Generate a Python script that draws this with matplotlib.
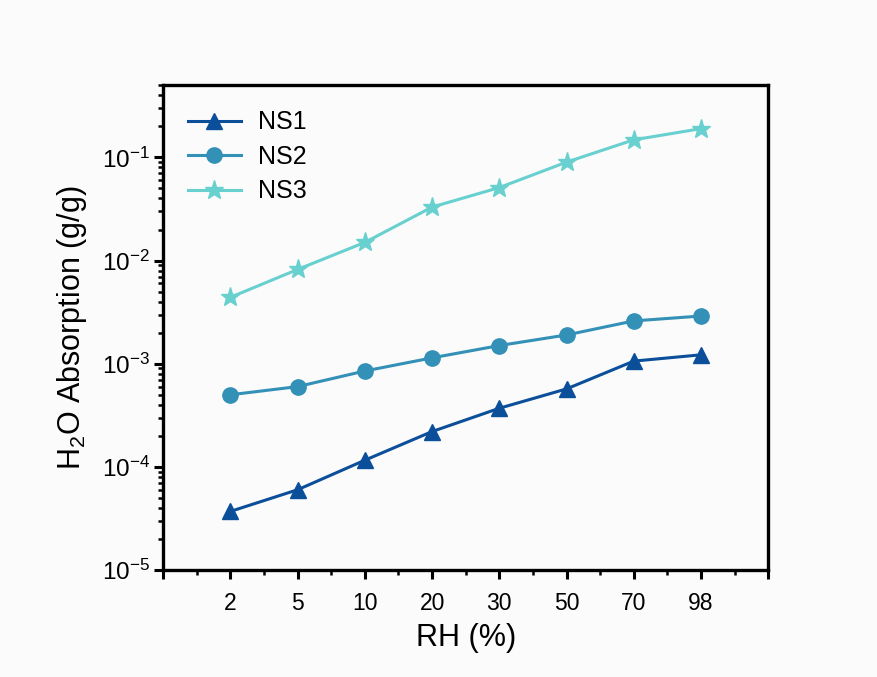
import matplotlib
matplotlib.use("Agg")
import matplotlib.pyplot as plt
from matplotlib.ticker import LogLocator, NullFormatter, MultipleLocator

plt.rcParams['font.family'] = ['Liberation Sans', 'DejaVu Sans']
plt.rcParams['mathtext.fontset'] = 'custom'
plt.rcParams['mathtext.rm'] = 'Liberation Sans'

rh_labels = ['2', '5', '10', '20', '30', '50', '70', '98']
ns1 = [3.7e-5, 6.0e-5, 1.16e-4, 2.2e-4, 3.7e-4, 5.7e-4, 1.06e-3, 1.22e-3]
ns2 = [5.0e-4, 6.0e-4, 8.5e-4, 1.14e-3, 1.5e-3, 1.9e-3, 2.6e-3, 2.9e-3]
ns3 = [4.4e-3, 8.2e-3, 1.5e-2, 3.3e-2, 5.1e-2, 9.0e-2, 0.148, 0.19]

x = list(range(1, len(rh_labels) + 1))

fig = plt.figure(figsize=(8.77, 6.77), dpi=100, facecolor='#fbfbfb')
ax = fig.add_axes([0.186, 0.158, 0.69, 0.716], facecolor='#fbfbfb')

ax.plot(x, ns1, '-^', color='#0b4f9b', lw=2.2, ms=12, label='NS1')
ax.plot(x, ns2, '-o', color='#3390b6', lw=2.2, ms=11, label='NS2')
ax.plot(x, ns3, '-*', color='#68d0cf', lw=2.2, ms=14, label='NS3')

ax.set_yscale('log')
ax.set_ylim(1e-5, 0.5)
ax.set_xlim(0, 9)
ax.set_xticks(range(0, 10))
ax.set_xticklabels([''] + rh_labels + [''])
ax.xaxis.set_minor_locator(MultipleLocator(0.5))
ax.yaxis.set_major_locator(LogLocator(base=10, numticks=10))
ax.yaxis.set_minor_locator(LogLocator(base=10, subs=range(2, 10), numticks=20))
ax.yaxis.set_minor_formatter(NullFormatter())

for s in ax.spines.values():
    s.set_linewidth(2.4)
ax.tick_params(which='major', direction='out', length=6.5, width=2.2,
               top=False, right=False)
ax.tick_params(axis='x', which='major', labelsize=16.5, pad=9)
ax.tick_params(axis='y', which='major', labelsize=17.5, pad=3)
ax.tick_params(which='minor', direction='out', length=3.5, width=1.8, top=False, right=False)

ax.set_xlabel('RH (%)', fontsize=22, labelpad=6)
ax.set_ylabel('H$_2$O Absorption (g/g)', fontsize=22, labelpad=9)

ax.legend(loc='upper left', frameon=False, fontsize=18, handlelength=2.1,
          handletextpad=0.7, borderaxespad=0.6, labelspacing=0.42)

fig.savefig('out.png', dpi=100, facecolor=fig.get_facecolor())
